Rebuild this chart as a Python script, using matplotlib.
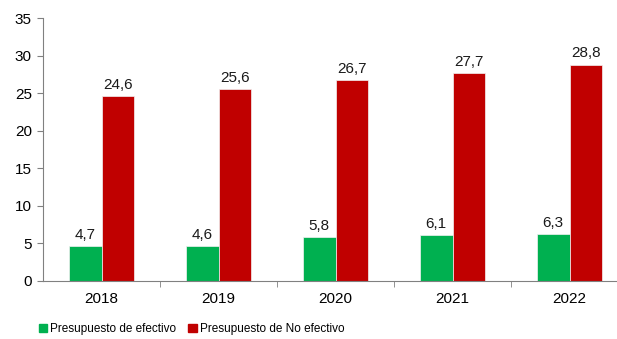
import numpy as np
import matplotlib
matplotlib.use("Agg")
import matplotlib.pyplot as plt
from matplotlib.patches import Patch

years = ["2018", "2019", "2020", "2021", "2022"]
efectivo = [4.7, 4.6, 5.8, 6.1, 6.3]
no_efectivo = [24.6, 25.6, 26.7, 27.7, 28.8]

plt.rcParams['font.family'] = ['Liberation Sans', 'DejaVu Sans']

fig = plt.figure(figsize=(6.17, 3.39), dpi=100)
ax = fig.add_axes([43/617, 1 - 281/339, 585/617, 263/339])

x = np.arange(len(years))
w = 0.28
green = "#00B050"
red = "#C00000"

b1 = ax.bar(x - w/2, efectivo, w, color=green, edgecolor="#f2f2f2", linewidth=0.5)
b2 = ax.bar(x + w/2, no_efectivo, w, color=red, edgecolor="#f2f2f2", linewidth=0.5)

for rect, v in zip(list(b1) + list(b2), efectivo + no_efectivo):
    ax.text(rect.get_x() + rect.get_width()/2, v + 0.55, f"{v:.1f}".replace(".", ","),
            ha="center", va="bottom", fontsize=11, color="#1a1a1a")

ax.set_xlim(-0.5, len(years) - 0.5)
ax.set_ylim(0, 35)
ax.set_yticks(np.arange(0, 36, 5))
ax.tick_params(axis="y", labelsize=11, length=4, color="#808080", pad=4)

ax.set_xticks(x)
ax.set_xticklabels(years, fontsize=11)
ax.tick_params(axis="x", which="major", length=0, pad=8)
ax.set_xticks(np.arange(0.5, len(years) - 0.5, 1), minor=True)
ax.tick_params(axis="x", which="minor", length=4, color="#808080")

for s in ["top", "right"]:
    ax.spines[s].set_visible(False)
for s in ["left", "bottom"]:
    ax.spines[s].set_color("#808080")

handles = [Patch(color=green, label="Presupuesto de efectivo"),
           Patch(color=red, label="Presupuesto de No efectivo")]
fig.legend(handles=handles, loc="center left", bbox_to_anchor=(28/617, 1 - 329/339),
           ncol=2, frameon=False, fontsize=8.5, handlelength=0.7, handleheight=0.7,
           handletextpad=0.3, columnspacing=1.0)

fig.savefig("out.png", dpi=100)
